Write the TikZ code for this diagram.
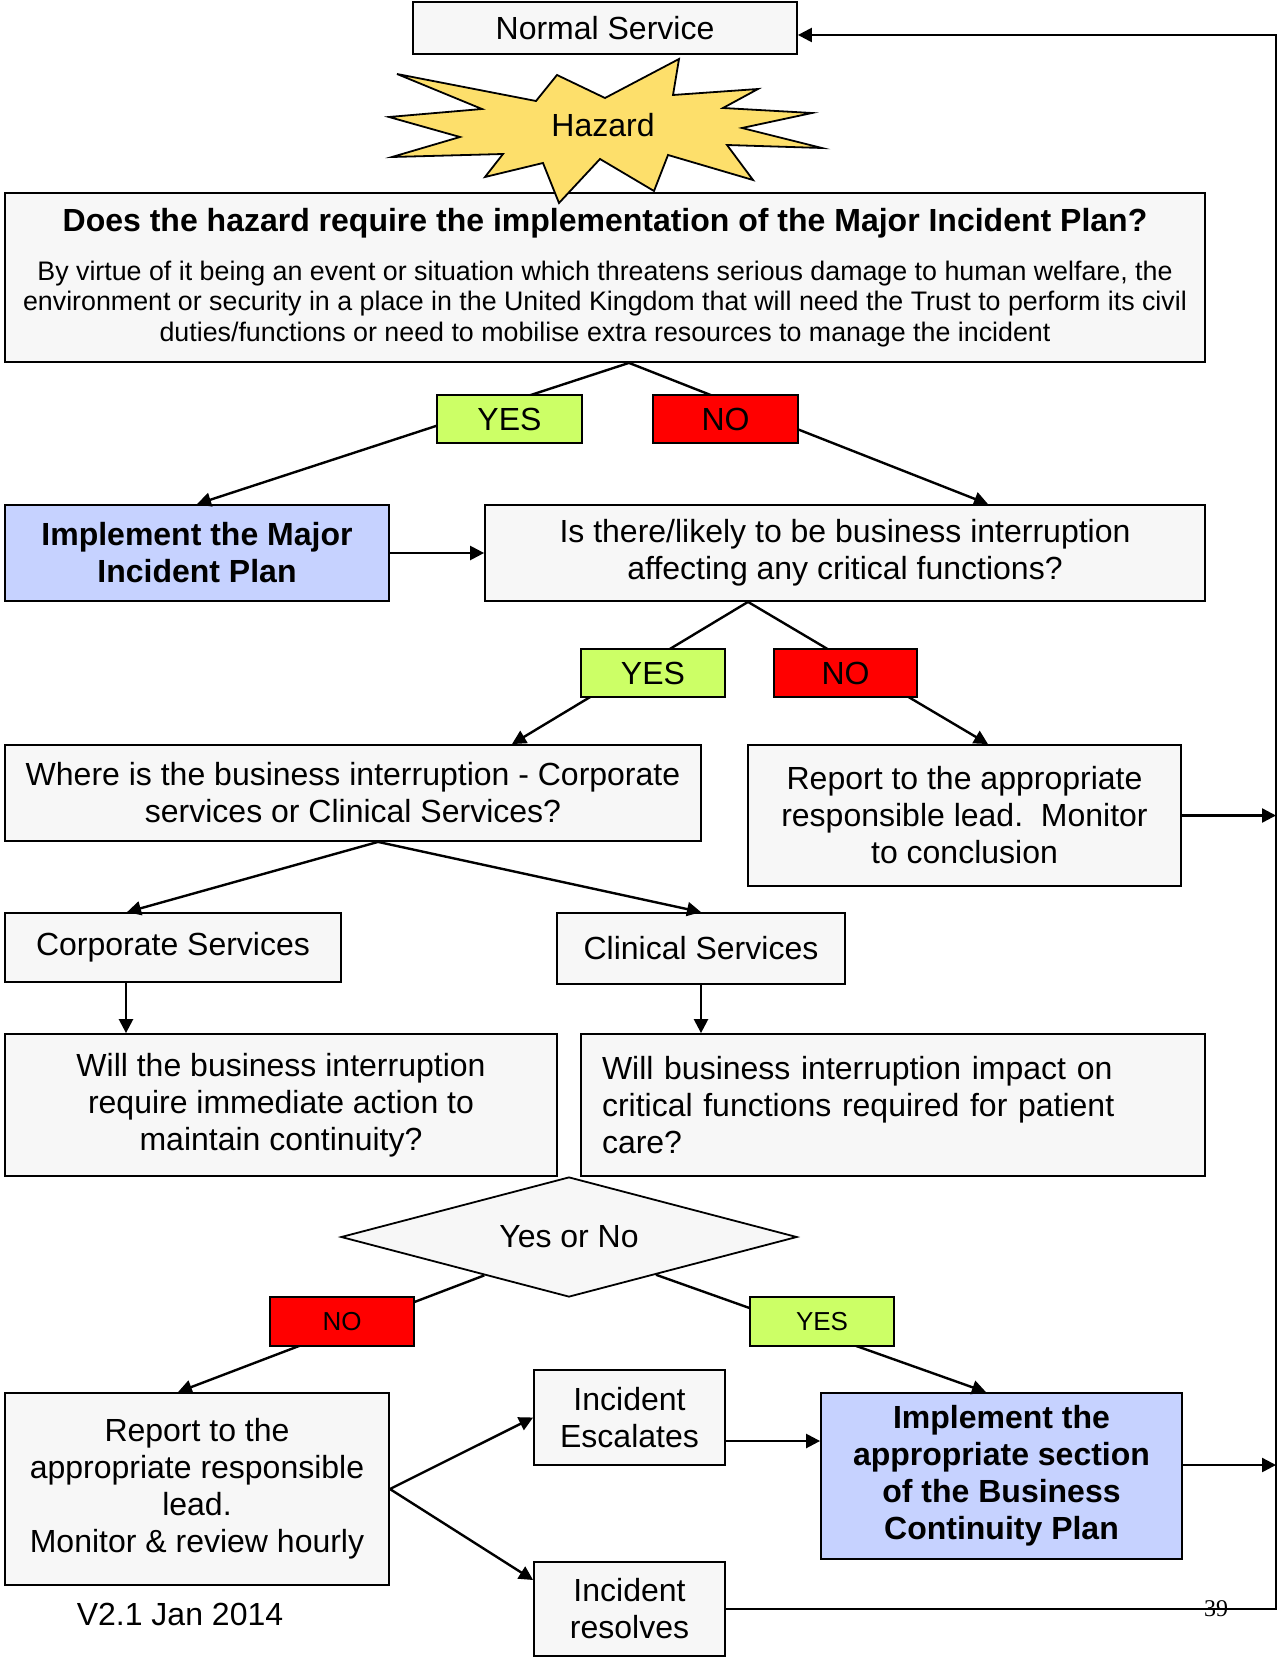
\documentclass[tikz,border=0pt]{standalone}
\usepackage{fontspec}
\setmainfont{Liberation Sans}
\newfontfamily\pagenofont{Liberation Serif}
\usepackage{xcolor}
\usetikzlibrary{arrows.meta,shapes.geometric,calc}

\definecolor{boxgrey}{HTML}{F7F7F7}
\definecolor{planblue}{HTML}{C6D2FF}
\definecolor{yesgreen}{HTML}{CCFF66}
\definecolor{nored}{HTML}{FF0000}
\definecolor{hazardyellow}{HTML}{FDDF6B}

\begin{document}
\begin{tikzpicture}[x=0.5pt, y=-0.5pt,
  every node/.style = {align=center, font=\fontsize{16}{18.5}\selectfont},
  box/.style = {shape=rectangle, draw, line width=0.9pt, fill=boxgrey, inner sep=0pt},
  planbox/.style = {box, fill=planblue, font=\fontsize{16}{18.5}\selectfont\bfseries},
  yesbox/.style = {box, fill=yesgreen},
  nobox/.style = {box, fill=nored},
  small/.style = {font=\fontsize{13}{15}\selectfont},
  link/.style = {line width=1.2pt, -{Triangle[length=7pt,width=7pt]}}]
  \useasboundingbox (0,0) rectangle (1278,1658);

  \node[box, minimum width=192pt, minimum height=26pt] (normal) at (605,28) {Normal Service};

  \node[box, minimum width=600pt, minimum height=84.5pt] (q1) at (605,277.5) {};
  \node (q1head) at (605,223) {\bfseries Does the hazard require the implementation of the Major Incident Plan?};
  \node[font=\fontsize{13.4}{15.2}\selectfont] (q1body) at (605,304)
    {By virtue of it being an event or situation which threatens serious damage to human welfare, the\\
     environment or security in a place in the United Kingdom that will need the Trust to perform its civil\\
     duties/functions or need to mobilise extra resources to manage the incident};

  \draw[fill=hazardyellow, line width=0.9pt]
    (679,59) -- (673,95) -- (758,89) -- (723,108) -- (812,113) -- (742,128)
    -- (822,148) -- (727,145) -- (753,180) -- (668,155) -- (654,191) -- (600,159)
    -- (559,203) -- (543,163) -- (485,177) -- (503,154) -- (392,157) -- (460,137)
    -- (389,117) -- (482,109) -- (397,74) -- (536,101) -- (557,75) -- (605,98) -- cycle;
  \node (hazard) at (603,125) {Hazard};

  \node[planbox, minimum width=192pt, minimum height=48pt] (plan) at (197,553)
    {Implement the Major\\ Incident Plan};
  \node[box, minimum width=360pt, minimum height=48pt] (q2) at (845,553)
    {Is there/likely to be business interruption\\ affecting any critical functions?};
  \node[box, minimum width=348pt, minimum height=48pt] (where) at (353,793)
    {Where is the business interruption - Corporate\\ services or Clinical Services?};
  \node[box, minimum width=216.5pt, minimum height=70.5pt] (rep1) at (964.5,815.5)
    {Report to the appropriate\\ responsible lead.\ \ Monitor\\ to conclusion};
  \node[box, minimum width=168pt, minimum height=34.5pt] (corp) at (173,947.5) {Corporate Services};
  \node[box, minimum width=144pt, minimum height=35.5pt] (clin) at (701,948.5) {Clinical Services};
  \node[box, minimum width=276pt, minimum height=71pt] (q3a) at (281,1105)
    {Will the business interruption\\ require immediate action to\\ maintain continuity?};
  \node[box, text width=291pt, inner xsep=10.5pt, align=left, minimum height=71pt] (q3b) at (893,1105)
    {Will business interruption impact on\\ critical functions required for patient\\ care?};
  \node[box, shape=diamond, aspect=3.8, minimum width=228pt, minimum height=60pt] (yn) at (569,1237) {Yes or No};
  \node[box, minimum width=192pt, minimum height=96pt] (rep2) at (197,1489)
    {Report to the\\ appropriate responsible\\ lead.\\ Monitor \& review hourly};
  \node[box, minimum width=95.5pt, minimum height=47.5pt] (esc) at (629.5,1417.5) {Incident\\ Escalates};
  \node[box, minimum width=95.5pt, minimum height=47pt] (res) at (629.5,1609) {Incident\\ resolves};
  \node[planbox, minimum width=180.5pt, minimum height=83pt] (bcp) at (1001.5,1476)
    {Implement the\\ appropriate section\\ of the Business\\ Continuity Plan};
  \node (version) at (180,1614) {V2.1 Jan 2014};
  \node[font=\pagenofont\fontsize{12}{14}\selectfont] (pageno) at (1216,1609) {39};

  \coordinate (rail) at (1276,0);
  \coordinate (q1tip) at ($(q1.south)+(24,0)$);
  \draw[link] (q1tip) -- (plan.north);
  \draw[link] (q1tip) -- ($(q2.north)+(143,0)$);
  \draw[link] (plan) -- (q2);
  \coordinate (q2tip) at ($(q2.south)+(-97,0)$);
  \draw[link] (q2tip) -- ($(where.north)+(159,0)$);
  \draw[link] (q2tip) -- ($(rep1.north)+(23.5,0)$);
  \draw[link] (rep1.east) -- (rep1.east -| rail);
  \coordinate (wheretip) at ($(where.south)+(25,0)$);
  \draw[link] (wheretip) -- ($(corp.north)+(-46,0)$);
  \draw[link] (wheretip) -- (clin.north);
  \coordinate (corpfoot) at ($(corp.south)+(-47,0)$);
  \draw[link] (corpfoot) -- (corpfoot |- q3a.north);
  \draw[link] (clin.south) -- (clin.south |- q3b.north);
  \draw[link] ($(yn.west)!0.63!(yn.south)$) -- ($(rep2.north)+(-19,0)$);
  \draw[link] ($(yn.east)!0.62!(yn.south)$) -- ($(bcp.north)+(-15.5,0)$);
  \draw[link] (rep2.east) -- (esc.west);
  \draw[link] (rep2.east) -- ($(res.west)+(0,-29)$);
  \coordinate (escout) at ($(esc.east)+(0,23.5)$);
  \draw[link] (escout) -- (escout -| bcp.west);
  \coordinate (bcpout) at ($(bcp.east)+(0,-11)$);
  \draw[link] (bcpout) -- (bcpout -| rail);
  \coordinate (nsin) at ($(normal.east)+(0,7)$);
  \draw[link] (res.east) -- (res.east -| rail) -- (nsin -| rail) -- (nsin);

  \node[yesbox, minimum width=72.5pt, minimum height=24pt] (yes1) at (509.5,419) {YES};
  \node[nobox, minimum width=72.5pt, minimum height=24pt] (no1) at (725.5,419) {NO};
  \node[yesbox, minimum width=72pt, minimum height=24pt] (yes2) at (653,673) {YES};
  \node[nobox, minimum width=71.5pt, minimum height=24pt] (no2) at (845.5,673) {NO};
  \node[nobox, small, minimum width=72pt, minimum height=24.5pt] (no3) at (342,1321.5) {NO};
  \node[yesbox, small, minimum width=72pt, minimum height=24.5pt] (yes3) at (822,1321.5) {YES};
\end{tikzpicture}
\end{document}
